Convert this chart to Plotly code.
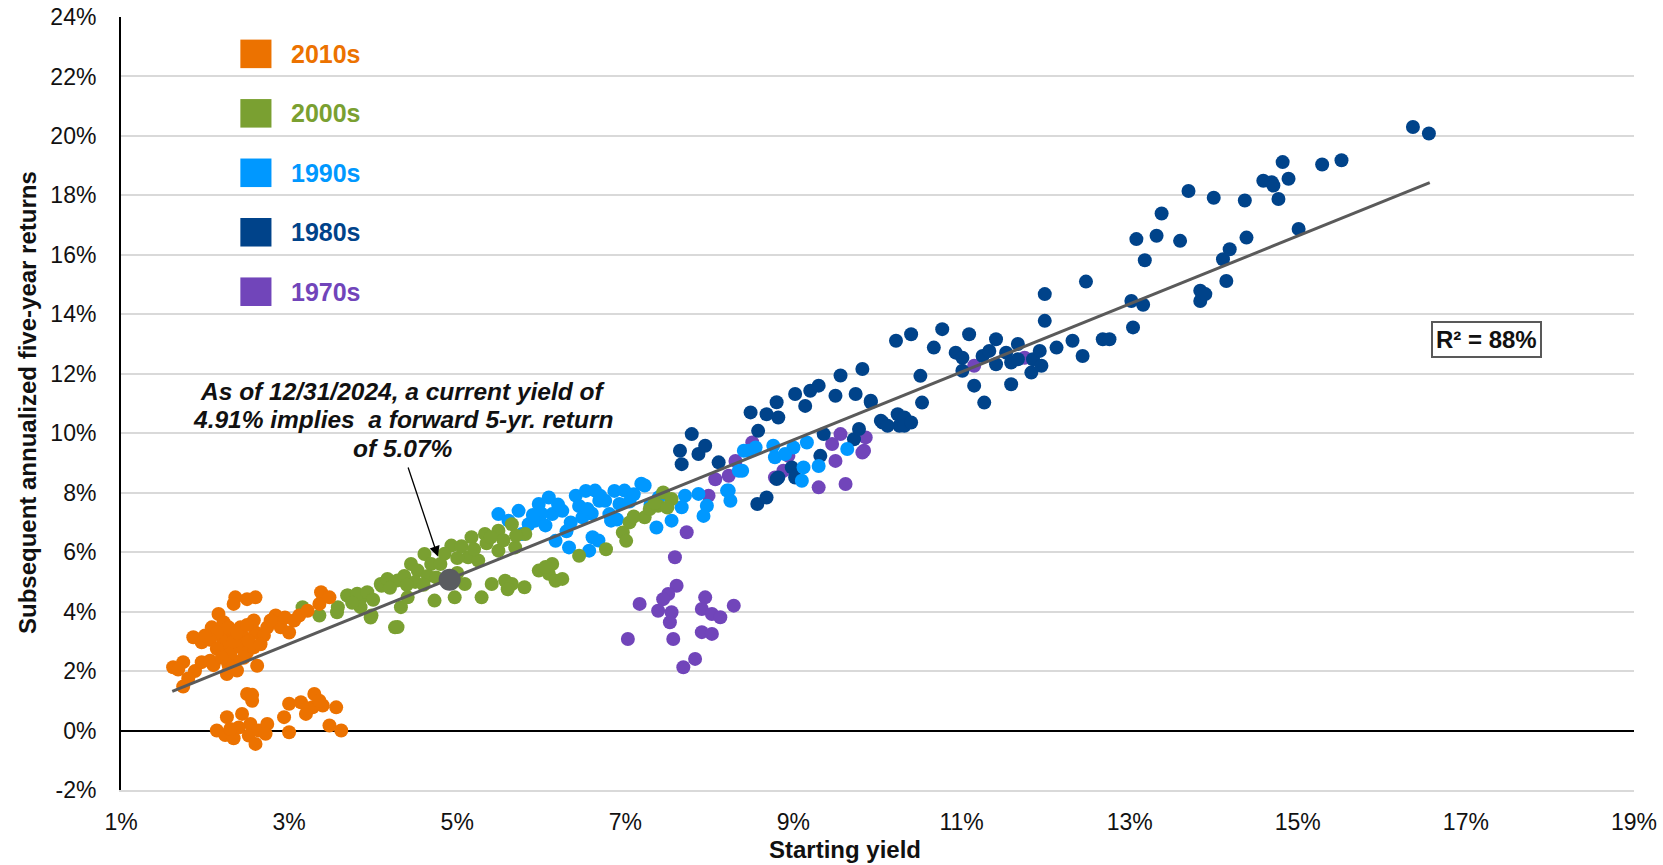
import plotly.graph_objects as go

# ---------------- data (starting yield %, subsequent 5-yr annualized return %) ----------------
x_2010s = [1.62,1.74,1.74,1.88,1.96,2.06,1.86,1.96,2.08,2.16,2.22,2.18,2.27,2.36,2.34,2.50,2.60,2.24,2.26,2.38,
           2.34,2.30,2.42,2.46,2.42,2.50,2.58,2.60,2.62,2.58,2.70,2.74,2.84,2.90,3.00,3.06,3.12,3.22,3.38,3.36,
           3.48,2.22,2.14,2.06,2.34,2.28,2.52,2.38,2.14,2.28,1.68,1.80,2.10,2.00,2.46,2.66,2.78,2.95,2.20,2.50,
           2.14,2.26,2.24,2.34,2.44,2.50,2.56,2.54,2.52,2.60,2.64,2.74,2.72,2.94,3.00,3.00,3.14,3.20,3.30,3.28,
           3.40,3.56,3.48,3.62,2.40,2.56,3.22,3.36,2.30]
y_2010s = [2.13,2.30,1.48,2.00,2.30,2.35,3.14,2.97,3.47,3.92,3.64,3.25,3.14,4.48,4.26,4.42,4.48,2.74,1.90,2.02,
           2.35,2.58,2.80,3.14,3.47,2.63,2.80,3.30,2.18,3.70,3.20,3.47,3.87,3.47,3.30,3.70,3.87,4.03,4.65,4.26,
           4.48,3.00,3.30,3.05,3.00,3.47,3.00,3.30,2.75,2.20,2.05,1.75,2.20,3.20,2.45,2.90,3.70,3.80,2.45,3.55,
           0.00,0.45,-0.15,-0.26,0.56,1.23,1.00,0.22,-0.17,-0.45,0.00,0.22,-0.11,0.45,-0.06,0.90,0.95,0.56,1.23,0.78,
           0.84,0.78,0.17,0.00,0.10,1.20,0.75,1.00,0.05]

x_2000s = [3.16,3.36,3.58,3.70,3.86,3.98,4.10,4.26,3.57,3.69,3.81,3.93,3.85,3.97,4.09,4.17,4.29,4.29,4.33,4.45,
           4.53,4.41,4.61,4.69,4.73,4.93,4.97,5.09,5.13,5.17,5.25,5.33,5.29,5.41,5.49,5.49,5.57,5.65,5.69,5.65,
           5.80,5.81,5.97,6.09,6.17,6.13,6.45,6.77,6.97,7.01,7.05,7.23,7.29,7.39,7.45,7.55,4.20,4.37,4.50,4.65,
           4.80,4.85,5.00,5.05,5.20,5.35,5.55,5.70,5.40,4.60,4.40,4.00,3.75,5.00,4.75,5.60,6.05,6.25,7.10,7.35,7.50]
y_2000s = [4.15,3.87,4.15,4.54,4.48,3.87,4.87,3.47,3.98,4.54,4.60,4.65,4.15,3.80,4.93,5.10,5.05,3.48,4.15,5.60,
           5.38,4.48,5.94,5.60,4.37,6.22,4.48,4.93,5.83,6.50,5.72,6.61,4.48,4.93,6.72,6.05,5.04,6.94,6.16,4.93,
           4.82,6.61,5.38,5.27,5.04,5.60,5.88,6.10,6.66,6.38,7.00,7.17,7.45,7.56,8.01,7.79,4.80,5.20,5.00,5.20,
           5.60,5.95,5.80,6.20,6.10,6.30,6.40,6.55,6.50,4.90,4.90,4.40,4.30,5.30,5.15,4.75,5.50,5.10,7.20,7.65,7.50]

x_1990s = [5.49,5.61,5.73,5.85,5.97,6.09,6.13,6.25,6.17,6.33,6.41,6.53,6.49,6.61,6.57,6.69,6.81,6.87,6.93,5.93,
           5.77,6.64,6.76,6.99,7.19,6.83,6.68,7.37,7.55,7.67,7.87,7.97,7.93,8.23,8.35,8.47,7.23,7.71,8.21,8.25,
           8.39,8.41,8.55,8.78,8.76,9.00,9.12,9.10,9.30,9.64,9.16,8.90,6.00,6.20,6.35,6.45,6.60,6.70,7.05,7.10,
           7.30,6.90,6.30,6.05,5.90,7.40,6.55]
y_1990s = [7.28,7.06,7.39,6.94,7.62,7.84,7.28,7.39,6.38,6.16,7.90,8.06,7.17,6.50,6.05,7.73,7.28,8.06,7.62,7.06,
           6.61,8.07,7.73,8.07,8.30,7.06,6.39,6.83,7.06,7.51,7.96,7.56,7.22,8.07,8.74,9.41,8.24,7.90,8.07,7.73,
           8.74,9.41,9.52,9.19,9.58,9.52,8.85,8.40,8.90,9.47,9.69,9.30,7.30,7.60,7.00,7.55,7.30,7.90,7.70,7.95,
           7.60,7.10,6.70,6.90,7.25,7.85,7.45]

x_1980s = [7.65,7.67,7.79,7.87,7.95,8.11,8.49,8.58,8.68,8.82,8.80,8.57,8.68,9.02,9.14,9.20,9.30,9.50,9.74,9.92,
           10.06,10.24,10.26,9.36,9.32,8.98,9.02,8.82,9.72,9.78,10.22,10.40,10.77,10.67,10.51,10.53,9.92,9.82,10.04,10.12,
           10.32,10.32,10.40,10.93,11.01,11.01,11.09,11.15,11.27,11.25,11.33,11.41,11.41,11.53,11.59,11.59,11.67,11.67,11.83,11.85,
           11.93,11.95,11.99,11.99,12.13,12.32,12.44,12.68,12.76,13.04,13.02,13.16,13.08,13.18,13.32,13.38,13.60,13.70,14.00,13.84,
           13.84,13.90,14.11,14.19,14.15,14.37,14.39,14.59,14.69,14.71,14.77,14.82,14.89,15.01,15.29,15.52,16.37,16.56,12.48,9.56,8.80]
y_1980s = [9.41,8.96,9.97,9.30,9.58,9.02,10.70,10.08,10.64,10.53,11.04,7.62,7.84,11.32,10.92,11.43,11.60,11.26,11.32,11.04,
           10.36,10.64,10.25,9.97,9.24,8.85,8.51,8.51,9.80,10.14,13.11,13.33,13.50,12.88,11.93,11.03,11.09,12.16,10.42,10.25,
           10.53,10.25,10.36,12.71,12.54,12.10,13.33,11.60,11.03,12.60,12.77,13.16,12.32,12.71,12.38,11.65,13.00,12.49,12.04,12.49,
           12.77,12.27,13.78,14.68,12.88,13.11,12.60,13.16,13.16,13.56,14.45,14.32,16.53,15.82,16.64,17.39,16.47,18.15,17.92,14.79,
           14.45,14.68,15.85,16.19,15.12,17.83,16.58,18.49,18.44,18.33,17.88,19.12,18.56,16.87,19.04,19.18,20.30,20.08,15.10,11.94,8.46]

x_1970s = [7.73,7.59,7.61,7.51,7.45,7.39,7.55,7.53,7.17,7.03,7.57,7.69,7.83,7.95,7.91,8.03,8.13,8.29,7.91,8.03,
           7.99,8.07,8.23,8.31,8.51,8.78,8.88,9.30,9.50,9.62,9.46,9.56,9.84,9.86,8.94,9.82,11.15,11.75]
y_1970s = [6.67,5.83,4.87,4.59,4.42,4.03,3.98,3.64,4.26,3.08,3.08,2.13,2.41,4.48,4.09,3.92,3.81,4.20,3.31,3.25,
           7.90,8.45,8.57,9.07,9.69,8.51,8.74,8.18,9.07,8.29,9.64,9.97,9.41,9.86,9.24,9.35,12.27,12.54]

trend_x = [1.61, 16.57]
trend_y = [1.32, 18.43]

current_x = [4.91]
current_y = [5.07]

decades = ["2010s", "2000s", "1990s", "1980s", "1970s"]
colors = {"2010s": "#EC7200", "2000s": "#7AA031", "1990s": "#0098FF",
          "1980s": "#00438A", "1970s": "#7145BA"}
series = {"2010s": (x_2010s, y_2010s), "2000s": (x_2000s, y_2000s), "1990s": (x_1990s, y_1990s),
          "1980s": (x_1980s, y_1980s), "1970s": (x_1970s, y_1970s)}

y_ticks = list(range(-2, 25, 2))
x_ticks = list(range(1, 20, 2))

callout_lines = ["As of 12/31/2024, a current yield of",
                 "4.91% implies  a forward 5-yr. return",
                 "of 5.07%"]

FONT = "Liberation Sans, Arial, sans-serif"

# plot area in pixels (full size)
L, R, T, B = 121, 29, 17, 75
W, H = 1663, 865
PW, PH = W - L - R, H - T - B


def py2paper(py):
    return (H - B - py) / PH


def px2paper(px):
    return (px - L) / PW


fig = go.Figure()
# draw oldest first so later decades sit on top
for d in reversed(decades):
    xs, ys = series[d]
    fig.add_trace(go.Scatter(x=xs, y=ys, mode="markers", name=d, showlegend=False,
                             marker=dict(size=14, color=colors[d], line=dict(width=0))))

fig.add_trace(go.Scatter(x=trend_x, y=trend_y, mode="lines", showlegend=False,
                         line=dict(color="#5A5A5A", width=3)))
fig.add_trace(go.Scatter(x=current_x, y=current_y, mode="markers", showlegend=False,
                         marker=dict(size=22, color="#5A5C60")))

shapes = []
annotations = []
# manual legend
for i, d in enumerate(decades):
    yc = 22.76 - 2.0 * i
    shapes.append(dict(type="rect", xref="x", yref="y", x0=2.42, x1=2.79, y0=yc - 0.48, y1=yc + 0.48,
                       fillcolor=colors[d], line=dict(width=0)))
    annotations.append(dict(x=3.0, y=yc, xref="x", yref="y", text="<b>%s</b>" % d, showarrow=False,
                            xanchor="left", yanchor="middle",
                            font=dict(family=FONT, size=25, color=colors[d])))

# R^2 box
annotations.append(dict(x=17.24, y=13.15, xref="x", yref="y", text="<b>R² = 88%</b>", showarrow=False,
                        font=dict(family=FONT, size=24, color="#111111"), bgcolor="white",
                        bordercolor="#595959", borderwidth=2, borderpad=3))

# callout text (one annotation per line for exact spacing)
for i, line in enumerate(callout_lines):
    annotations.append(dict(x=px2paper(403), y=py2paper(391 + 28.8 * i), xref="paper", yref="paper",
                            text="<b><i>%s</i></b>" % line, showarrow=False,
                            xanchor="center", yanchor="middle",
                            font=dict(family=FONT, size=24.5, color="#111111")))
# callout arrow
annotations.append(dict(x=4.77, y=5.85, ax=4.41, ay=8.9, xref="x", yref="y", axref="x", ayref="y",
                        text="", showarrow=True, arrowhead=2, arrowsize=1.6, arrowwidth=1.3,
                        arrowcolor="#000000"))

# axis titles
annotations.append(dict(x=px2paper(845), y=py2paper(850), xref="paper", yref="paper",
                        text="<b>Starting yield</b>", showarrow=False, xanchor="center", yanchor="middle",
                        font=dict(family=FONT, size=24, color="#111111")))
annotations.append(dict(x=px2paper(27), y=py2paper(403), xref="paper", yref="paper",
                        text="<b>Subsequent annualized five-year returns</b>", showarrow=False,
                        xanchor="center", yanchor="middle", textangle=-90,
                        font=dict(family=FONT, size=24, color="#111111")))

fig.update_layout(
    width=W, height=H,
    margin=dict(l=L, r=R, t=T, b=B),
    plot_bgcolor="white", paper_bgcolor="white",
    font=dict(family=FONT, size=23, color="#111111"),
    shapes=shapes, annotations=annotations,
    xaxis=dict(range=[1, 19], tickvals=x_ticks, ticktext=["%d%%" % v for v in x_ticks],
               showgrid=False, zeroline=False, showline=True, linecolor="#D9D9D9", linewidth=2,
               ticks="", ticklabelstandoff=10, automargin=False,
               tickfont=dict(family=FONT, size=23, color="#111111")),
    yaxis=dict(range=[-2, 24], tickvals=y_ticks, ticktext=["%d%%" % v for v in y_ticks],
               showgrid=True, gridcolor="#D9D9D9", gridwidth=2,
               zeroline=True, zerolinecolor="#000000", zerolinewidth=2,
               showline=True, linecolor="#000000", linewidth=2,
               ticks="", ticklabelstandoff=18, automargin=False,
               tickfont=dict(family=FONT, size=23, color="#111111")),
)

fig.write_html("out.html", config={"displayModeBar": False},
               post_script="document.body.style.margin='0px';document.body.style.overflow='hidden';")
